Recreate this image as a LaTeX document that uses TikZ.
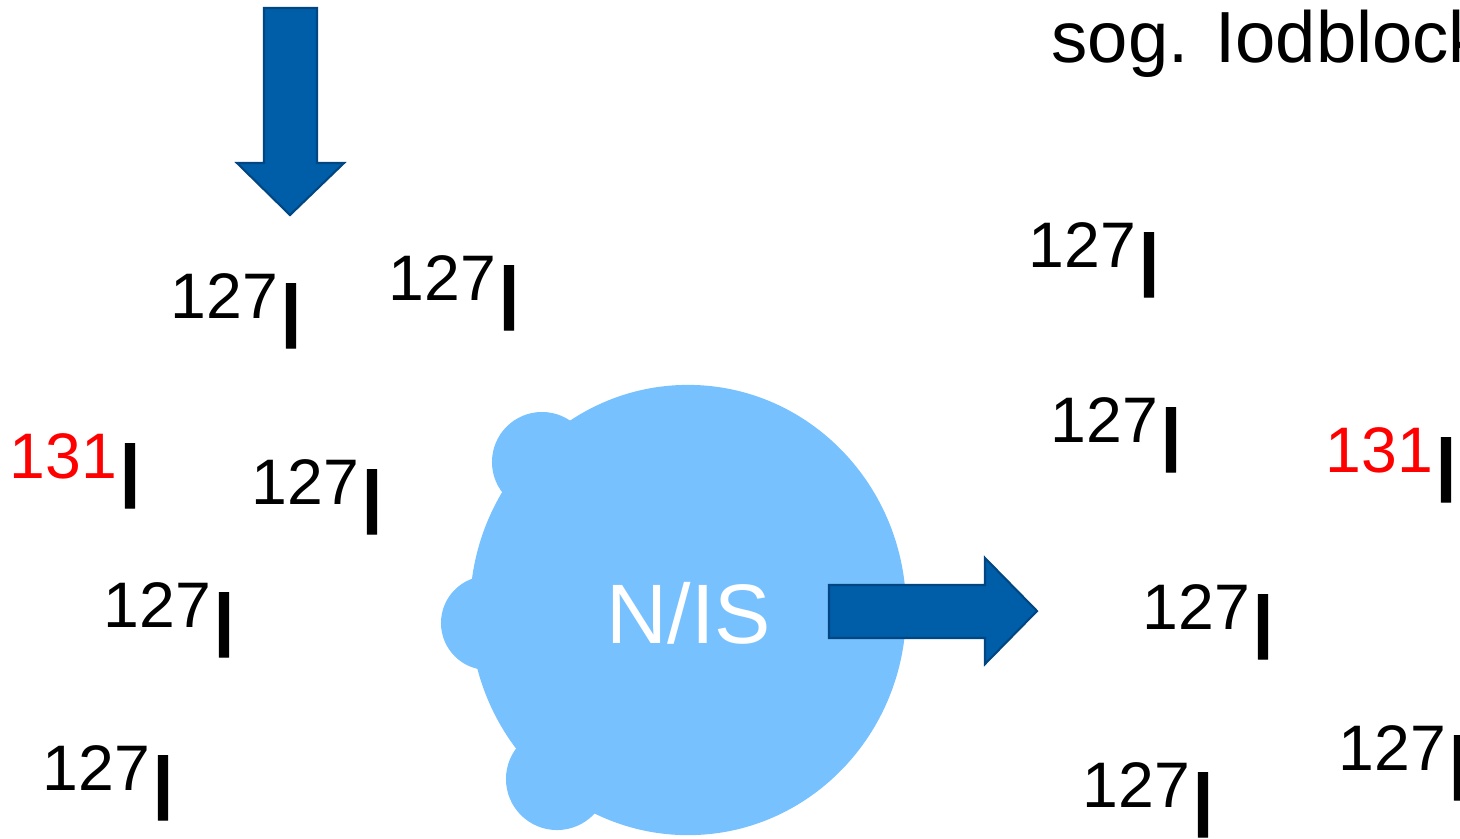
\documentclass[tikz,border=0pt]{standalone}
\usepackage{fontspec}
\setmainfont{Liberation Sans}
\definecolor{wolke}{RGB}{120,193,255}
\definecolor{pfeil}{RGB}{0,94,168}
\definecolor{pfeilrand}{RGB}{0,70,130}

% Isotop: Massenzahl hochgestellt, dann I
\newcommand{\isotop}[2]{\raisebox{8.5pt}{\fontsize{18.3}{18.3}\selectfont\color{#2}#1}{\fontsize{26.5}{26.5}\selectfont\addfontfeature{FakeBold=1.5}I}}

\begin{document}
\begin{tikzpicture}[x=0.01cm,y=-0.01cm,
    kern/.style={anchor=base west,inner sep=0pt},
    blockpfeil/.style={fill=pfeil,draw=pfeilrand,line width=0.6pt}]
    \useasboundingbox (0,0) rectangle (1460,838);
    \clip (0,0) rectangle (1460,838);

    % Zelle (N/IS)
    \fill[wolke] (688,610) ellipse (2.18cm and 2.25cm);
    \foreach \x/\y/\r in {542/462/0.5, 488/623/0.47, 557/779/0.51}
    {
        \fill[wolke] (\x,\y) circle (\r cm);
    }
    \node[kern,anchor=base,text=white,font=\fontsize{24}{24}\selectfont] (nis) at (689,643) {N/IS};

    % Pfeile
    \draw[blockpfeil] (264,8) -- (317,8) -- (317,163) -- (344,163) -- (290,215) -- (237,163) -- (264,163) -- cycle;
    \draw[blockpfeil] (829,585) -- (985,585) -- (985,558) -- (1037,611) -- (985,664) -- (985,638) -- (829,638) -- cycle;

    % Isotope
    \foreach \n/\x/\y/\m/\c in {a1/170/348/127/black, a2/388/330/127/black, a3/9/508/131/red,
        a4/251/534/127/black, a5/103/657/127/black, a6/42/820/127/black,
        b1/1028/297/127/black, b2/1050/472/127/black, b3/1325/502/131/red,
        b4/1142/659/127/black, b5/1082/837/127/black, b6/1338/800/127/black}
    {
        \node[kern] (\n) at (\x,\y) {\isotop{\m}{\c}};
    }

    \node[kern,font=\fontsize{20.6}{20.6}\selectfont] (titel) at (1051,62) {sog. Iodblock};
\end{tikzpicture}
\end{document}
